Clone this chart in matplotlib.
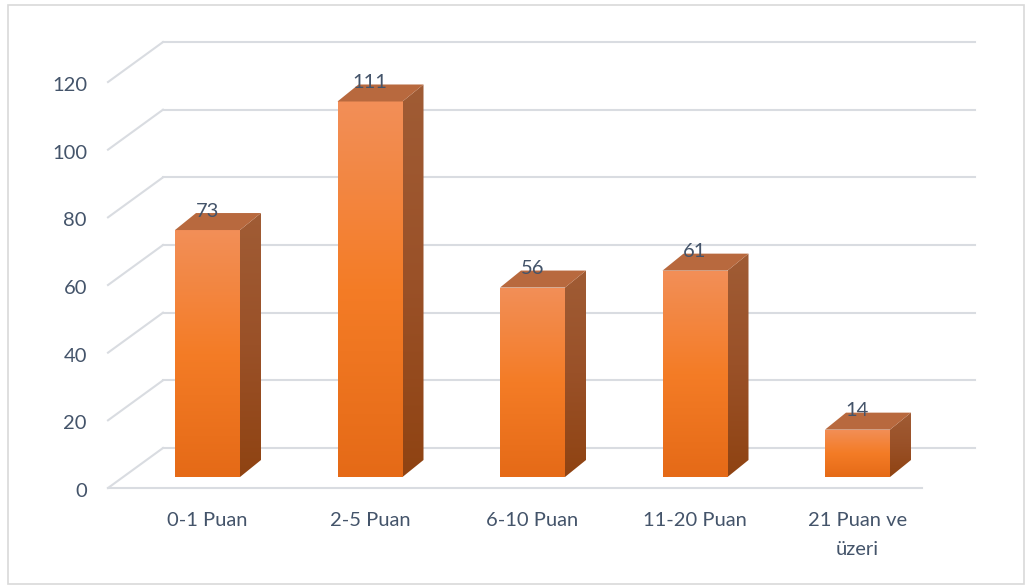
import numpy as np
import matplotlib
matplotlib.use("Agg")
import matplotlib.pyplot as plt
from matplotlib.colors import LinearSegmentedColormap
from matplotlib.patches import Polygon, Rectangle

categories = ["0-1 Puan", "2-5 Puan", "6-10 Puan", "11-20 Puan", "21 Puan ve\nüzeri"]
values = [73, 111, 56, 61, 14]
yticks = [0, 20, 40, 60, 80, 100, 120]

plt.rcParams["font.family"] = ["Lato", "DejaVu Sans"]
txt_color = "#44546a"
grid_color = "#d9dce1"
fs = 14.5

fig = plt.figure(figsize=(10.26, 5.86), dpi=100)
ax = fig.add_axes([0, 0, 1, 1])
# data units: x = category index, y = value on bar front plane
px_x = 162.5        # pixels per category
px_y = 3.383        # pixels per value unit
ax.set_xlim(-207.5 / px_x, (1026 - 207.5) / px_x)
ax.set_ylim(-109 / px_y, (586 - 109) / px_y)
ax.axis("off")

# depth geometry (in data units)
front_y = -11 / px_y          # front edge of floor
back_y = 29 / px_y            # back wall
x_front_l = (108 - 207.5) / px_x
x_back_l = (163 - 207.5) / px_x
x_back_r = (975 - 207.5) / px_x
x_front_r = (922 - 207.5) / px_x

for v in yticks:
    ax.plot([x_front_l, x_back_l], [v + front_y, v + back_y], color=grid_color, lw=1.5, zorder=1)
    ax.plot([x_back_l, x_back_r], [v + back_y, v + back_y], color=grid_color, lw=1.5, zorder=1)
    ax.text((87 - 207.5) / px_x, v + front_y - 1, str(v), ha="right", va="center",
            fontsize=fs, color=txt_color)
ax.plot([x_front_l, x_front_r], [front_y, front_y], color=grid_color, lw=1.5, zorder=1)

front_cmap = LinearSegmentedColormap.from_list("f", ["#e56a17", "#f47c26", "#f28f58"])
side_cmap = LinearSegmentedColormap.from_list("s", ["#8f4312", "#9a5128", "#a05c35"])
grad = np.linspace(0, 1, 256).reshape(-1, 1)

w = 65 / px_x
ddx = 21 / px_x
ddy = 17 / px_y
for i, (cat, v) in enumerate(zip(categories, values)):
    x0, x1 = i - w / 2, i + w / 2
    # front face
    im = ax.imshow(grad, cmap=front_cmap, origin="lower", aspect="auto",
                   extent=(x0, x1, 0, v), zorder=3)
    im.set_clip_path(Rectangle((x0, 0), w, v, transform=ax.transData))
    # side face
    side = Polygon([(x1, 0), (x1 + ddx, ddy), (x1 + ddx, v + ddy), (x1, v)],
                   closed=True, transform=ax.transData, facecolor="none", edgecolor="none")
    ax.add_patch(side)
    ims = ax.imshow(grad, cmap=side_cmap, origin="lower", aspect="auto",
                    extent=(x1, x1 + ddx, 0, v + ddy), zorder=3)
    ims.set_clip_path(side)
    # top face
    ax.add_patch(Polygon([(x0, v), (x1, v), (x1 + ddx, v + ddy), (x0 + ddx, v + ddy)],
                         closed=True, facecolor="#b8693e", edgecolor="none", zorder=4))
    ax.text(i, v + ddy - 2, str(v), ha="center", va="bottom", fontsize=fs, color=txt_color, zorder=5)
    ax.text(i, -35 / px_y, cat, ha="center", va="top", fontsize=fs, color=txt_color,
            linespacing=1.85)

fig.patches.append(Rectangle((8 / 1026, 2 / 586), 1016 / 1026, 579 / 586, transform=fig.transFigure,
                             fill=False, edgecolor="#d9d9d9", lw=1.2))
fig.savefig("out.png", dpi=100)
